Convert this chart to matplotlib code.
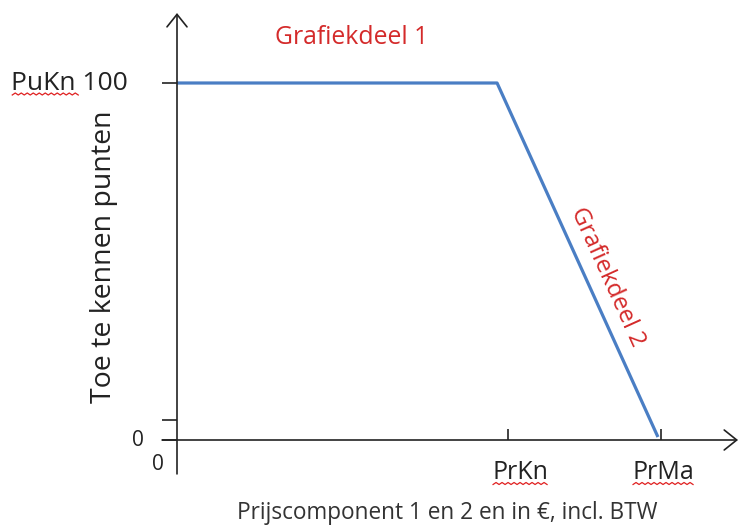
import matplotlib.pyplot as plt

# data
line_x = [0.0, 9.67, 14.53]
line_y = [100.0, 100.0, 0.84]
x_tick_pos = [10.0, 14.62]
x_tick_labels = ["PrKn", "PrMa"]
y_tick_pos = [0.0, 5.6, 100.0]
y_tick_labels = ["0", "", "PuKn 100"]

plt.rcParams['font.family'] = ['Open Sans', 'DejaVu Sans']

W, H = 742, 528
fig = plt.figure(figsize=(W / 100, H / 100), dpi=100)
ax = fig.add_axes([0, 0, 1, 1])

# origin at pixel (177, 440), scales in px per data unit
ox, oy = 177, 440
sx, sy = 33.1, 3.57
ax.set_xlim(-ox / sx, (W - ox) / sx)
ax.set_ylim(-(H - oy) / sy, oy / sy)

dark = "#222222"
red = "#d42a2a"
blue = "#4a7ec4"

for s in ax.spines.values():
    s.set_visible(False)
ax.spines['left'].set_position(('data', 0))
ax.spines['bottom'].set_position(('data', 0))

ax.plot(line_x, line_y, color=blue, lw=2.3, solid_capstyle='butt', zorder=3)

# axes with open arrow heads
arrow = dict(arrowstyle="->,head_length=0.45,head_width=0.36", color=dark,
             lw=1.2, mutation_scale=20, shrinkA=0, shrinkB=0)
ax.annotate("", xy=(0, 119.6), xytext=(0, -9.5), arrowprops=arrow)
ax.annotate("", xy=(16.95, 0), xytext=(-0.45, 0), arrowprops=arrow)

ax.set_xticks(x_tick_pos)
ax.set_xticklabels([])
ax.set_yticks(y_tick_pos)
ax.set_yticklabels([])
ax.tick_params(axis='x', direction='in', length=8, width=1.2, color=dark)
ax.tick_params(axis='y', direction='out', length=10.5, width=1.2, color=dark)

labels = []
for xp, lab, dx in zip(x_tick_pos, x_tick_labels, [12, 2]):
    labels.append(ax.annotate(lab, xy=(xp, 0), xytext=(dx, -20), textcoords='offset pixels',
                              ha='center', va='top', fontsize=18, color=dark))
labels.append(ax.annotate(y_tick_labels[2], xy=(0, y_tick_pos[2]), xytext=(-49, 0),
                          textcoords='offset pixels', ha='right', va='center',
                          fontsize=19, color=dark))
ax.annotate(y_tick_labels[0], xy=(0, y_tick_pos[0]), xytext=(-33, 0),
            textcoords='offset pixels', ha='right', va='center', fontsize=15, color=dark)
ax.annotate("0", xy=(0, 0), xytext=(-19, -25), textcoords='offset pixels',
            ha='center', va='center', fontsize=15, color=dark)

ax.text(104 / W, 1 - 257 / H, "Toe te kennen punten", transform=fig.transFigure,
        rotation=90, ha='center', va='center', fontsize=20.5, color=dark)
ax.text(447 / W, 1 - 513 / H, "Prijscomponent 1 en 2 en in €, incl. BTW",
        transform=fig.transFigure, ha='center', va='center', fontsize=16.3, color="#333333")
ax.text(352 / W, 1 - 37 / H, "Grafiekdeel 1", transform=fig.transFigure,
        ha='center', va='center', fontsize=17.8, color=red)
ax.text(607 / W, 1 - 277 / H, "Grafiekdeel 2", transform=fig.transFigure,
        rotation=-65.7, rotation_mode='anchor', ha='center', va='center',
        fontsize=17.5, color=red)

# spell-check squiggles under the abbreviations
fig.canvas.draw()
renderer = fig.canvas.get_renderer()
inv = fig.transFigure.inverted()
for t in labels:
    bb = t.get_window_extent(renderer)
    x0 = bb.x0 + 1
    x1 = bb.x1
    if t.get_text().startswith("PuKn"):
        x1 = bb.x0 + 68
    ybase = bb.y0 + 1
    xs, ys = [], []
    x = x0
    k = 0
    while x <= x1:
        xs.append(x)
        ys.append(ybase + (1.5 if k % 2 else -0.5))
        x += 3
        k += 1
    pts = inv.transform(list(zip(xs, ys)))
    fig.add_artist(plt.Line2D(pts[:, 0], pts[:, 1], color="#e02020", lw=0.9,
                              transform=fig.transFigure))

fig.savefig("out.png", dpi=100)
